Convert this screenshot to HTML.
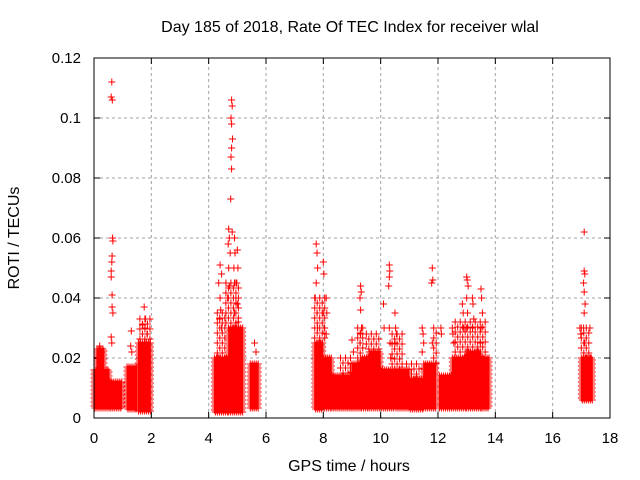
<!DOCTYPE html>
<html><head><meta charset="utf-8"><style>
body{margin:0;background:#fff}
svg{display:block;font-family:"Liberation Sans",sans-serif}
</style></head><body>
<svg id="chart" width="640" height="480" xmlns="http://www.w3.org/2000/svg">
<rect width="640" height="480" fill="#fff"/>
<text x="350" y="32" text-anchor="middle" font-size="16">Day 185 of 2018, Rate Of TEC Index for receiver wlal</text>
<text x="349" y="471" text-anchor="middle" font-size="16">GPS time / hours</text>
<text transform="translate(19,238) rotate(-90)" text-anchor="middle" font-size="16">ROTI / TECUs</text>
<g id="grid"></g>
<g id="ticks"></g>
<path id="pts" fill="none" stroke="#f00" stroke-width="1"/>
<rect x="94" y="58" width="516" height="360" fill="none" stroke="#000" stroke-width="1"/>
</svg>
<script>
const xTicks=[0,2,4,6,8,10,12,14,16,18];
const yTicks=[0,0.02,0.04,0.06,0.08,0.1,0.12];
const yTickLabels=["0","0.02","0.04","0.06","0.08","0.1","0.12"];
// dense bands
const bandStart=[0.0,0.1,0.55,1.15,1.55,4.2,4.7,5.45,7.7,8.0,8.3,9.0,9.3,9.6,10.0,10.5,11.0,11.5,12.05,12.5,13.0,13.5,17.0];
const bandEnd=[0.55,0.35,1.0,1.5,2.0,4.7,5.2,5.75,8.0,8.3,9.0,9.3,9.6,10.0,10.5,11.0,11.5,11.95,12.5,13.0,13.5,13.8,17.4];
const bandLow=[0.003,0.016,0.003,0.003,0.002,0.002,0.002,0.003,0.003,0.003,0.003,0.003,0.003,0.003,0.003,0.003,0.003,0.003,0.003,0.003,0.003,0.003,0.006];
const bandHigh=[0.016,0.023,0.012,0.017,0.025,0.02,0.03,0.018,0.025,0.02,0.014,0.018,0.02,0.022,0.016,0.016,0.013,0.018,0.014,0.02,0.022,0.02,0.02];
// sparse bands above dense cores
const sparseStart=[1.6,4.3,4.6,7.7,9.2,9.5,10.4,11.85,12.6,17.0,8.6,10.9];
const sparseEnd=[2.0,4.6,5.1,8.1,9.4,10.0,10.8,11.95,13.7,17.3,9.0,11.4];
const sparseLow=[0.025,0.02,0.03,0.025,0.02,0.022,0.016,0.018,0.022,0.02,0.014,0.013];
const sparseHigh=[0.033,0.035,0.045,0.04,0.03,0.028,0.028,0.03,0.032,0.03,0.02,0.018];
// outlier points
const ptT=[0.62,0.6,0.64,0.65,0.66,0.63,0.62,0.6,0.6,0.63,0.63,0.66,0.6,0.62,0.2,0.25,1.3,1.28,1.32,1.75,1.8,1.7,1.78,1.85,
4.4,4.45,4.35,4.4,4.42,4.38,4.45,4.7,4.72,4.68,4.75,4.7,4.73,4.66,
4.8,4.82,4.78,4.8,4.83,4.8,4.78,4.8,4.77,4.82,4.9,4.92,4.88,4.9,4.95,4.9,4.93,5.0,5.02,4.98,5.0,5.03,5.6,5.65,
7.75,7.78,7.8,7.75,7.72,7.78,7.8,8.0,8.02,8.05,8.0,8.03,8.1,8.12,8.1,9.3,9.32,9.28,9.3,9.33,9.3,9.28,9.0,9.05,
10.3,10.32,10.3,10.28,10.3,10.33,10.35,10.5,10.52,10.55,10.5,10.1,10.12,11.45,11.48,11.5,11.45,
11.8,11.82,11.78,11.85,11.8,12.1,12.12,12.85,12.88,12.9,13.0,13.02,13.05,13.0,13.03,13.0,13.2,13.22,13.25,13.2,
13.5,13.52,13.55,13.5,13.48,12.5,12.52,12.55,17.1,17.1,17.12,17.08,17.1,17.13,17.1,17.08,17.12,17.3,17.32,17.35,16.95,16.98];
const ptV=[0.112,0.107,0.106,0.06,0.059,0.054,0.052,0.049,0.047,0.041,0.037,0.035,0.027,0.025,0.024,0.022,0.029,0.024,0.022,0.037,0.033,0.031,0.03,0.028,
0.051,0.048,0.045,0.04,0.036,0.033,0.03,0.063,0.06,0.058,0.055,0.05,0.044,0.04,
0.106,0.104,0.1,0.098,0.093,0.09,0.087,0.083,0.073,0.062,0.06,0.055,0.05,0.045,0.04,0.035,0.03,0.056,0.05,0.045,0.038,0.032,0.025,0.022,
0.058,0.055,0.05,0.045,0.04,0.035,0.03,0.052,0.048,0.04,0.035,0.03,0.04,0.035,0.028,0.044,0.042,0.04,0.036,0.03,0.028,0.025,0.026,0.022,
0.051,0.049,0.047,0.044,0.03,0.025,0.02,0.035,0.03,0.028,0.025,0.038,0.03,0.03,0.028,0.025,0.022,
0.05,0.046,0.045,0.03,0.025,0.03,0.028,0.038,0.035,0.03,0.047,0.046,0.044,0.04,0.035,0.03,0.04,0.038,0.033,0.03,
0.043,0.04,0.035,0.03,0.025,0.03,0.028,0.025,0.062,0.049,0.048,0.045,0.042,0.038,0.035,0.03,0.025,0.03,0.02,0.012,0.03,0.028];

const X0=94,X1=610,Y0=418,Y1=58;
const sx=t=>X0+(t/18)*(X1-X0);
const sy=v=>Y0-(v/0.12)*(Y0-Y1);
const NS="http://www.w3.org/2000/svg";
const grid=document.getElementById('grid'),ticks=document.getElementById('ticks');
function mk(tag,attrs,parent){const e=document.createElementNS(NS,tag);for(const k in attrs)e.setAttribute(k,attrs[k]);parent.appendChild(e);return e;}
xTicks.forEach((t,i)=>{const x=sx(t);
  if(i>0&&i<xTicks.length-1){const g=mk('line',{x1:x,x2:x,y1:Y0,y2:Y1,stroke:'#a0a0a0','stroke-dasharray':'3,3'},grid);
  
  }
  mk('line',{x1:x,x2:x,y1:Y0,y2:Y0-6,stroke:'#000'},ticks);mk('line',{x1:x,x2:x,y1:Y1,y2:Y1+6,stroke:'#000'},ticks);
  const l=mk('text',{x:x,y:Y0+25,'text-anchor':'middle','font-size':15},ticks);l.textContent=t;
  
  });
yTicks.forEach((v,i)=>{const y=sy(v);
  if(i>0&&i<yTicks.length-1){const g=mk('line',{x1:X0,x2:X1,y1:y,y2:y,stroke:'#a0a0a0','stroke-dasharray':'3,3'},grid);
  
  }
  mk('line',{x1:X0,x2:X0+6,y1:y,y2:y,stroke:'#000'},ticks);mk('line',{x1:X1,x2:X1-6,y1:y,y2:y,stroke:'#000'},ticks);
  const l=mk('text',{x:X0-13,y:y+5,'text-anchor':'end','font-size':15},ticks);l.textContent=yTickLabels[i];
  
  });
let d='';
const plus=(x,y)=>{d+=`M${(x-3.5).toFixed(1)} ${y.toFixed(1)}h7M${x.toFixed(1)} ${(y-3.5).toFixed(1)}v7`;};
function fill(s,e,lo,hi,step){
  for(let b=0;b<s.length;b++){
    const xa=sx(s[b]),xb=sx(e[b]),ya=sy(hi[b]),yb=sy(lo[b]);
    let r=0;
    for(let y=ya;y<=yb;y+=step,r++)for(let x=xa+(r%2)*step/2;x<=xb;x+=step)plus(x,y);
  }
}
fill(bandStart,bandEnd,bandLow,bandHigh,2);
fill(sparseStart,sparseEnd,sparseLow,sparseHigh,5);
for(let i=0;i<ptT.length;i++)plus(sx(ptT[i]),sy(ptV[i]));
document.getElementById('pts').setAttribute('d',d);
</script>
</body></html>
